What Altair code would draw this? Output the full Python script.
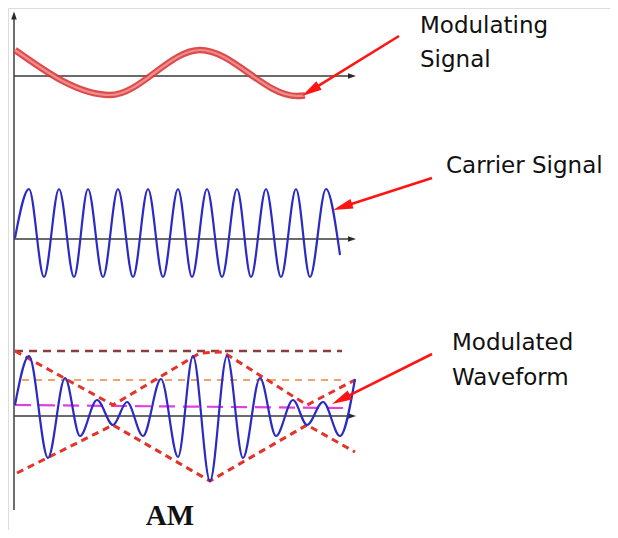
import math
import altair as alt
import pandas as pd

# ---------------- data ----------------
# t = time (px to the right of the vertical axis), amp = level above the panel's own zero line
mod_t   = [1, 96, 186, 283, 291]
mod_amp = [26, -19, 26, -20, -19.5]

car_t   = [1, 15, 30, 45, 60, 74, 89, 104, 119, 134, 149, 164, 178, 193, 208, 223, 237, 252, 267, 282, 296, 312, 326]
car_amp = [1, 50, -38, 50, -38, 50, -38, 50, -38, 50, -38, 50, -38, 50, -38, 50, -38, 50, -38, 50, -38, 50, -16]

am_t   = [1, 15, 34, 51, 66, 83, 99, 113, 129, 147, 164, 179, 196, 213, 229, 246, 262, 279, 293, 309, 326, 341]
am_amp = [11, 60, -42, 38, -20, 16, -9, 14, -20, 37, -41, 60, -65, 60, -42, 38, -20, 16, -9, 14, -20, 37]

env_up_t   = [1, 99, 186, 209, 293, 341]
env_up_amp = [65, 11, 63, 64, 11, 36]
env_lo_t   = [3, 99, 196, 293, 341]
env_lo_amp = [-57, -9, -65, -9, -36]

ref_dark_t,  ref_dark_amp  = [1, 328], [65, 65]
ref_orng_t,  ref_orng_amp  = [8, 333], [36, 36]
ref_mag_t,   ref_mag_amp   = [1, 329], [11, 8]

labels      = ["Modulating", "Signal", "Carrier Signal", "Modulated", "Waveform"]
label_t     = [406, 406, 432, 438, 438]
label_v     = [-33, -67, -173, -350, -385]

# ---------------- layout ----------------
W, H = 602, 522
BASE_MOD, BASE_CAR, BASE_AM = -76, -239, -416
AXIS_END = 336

xs = alt.Scale(domain=[-6, W - 6], nice=False, zero=False)
ys = alt.Scale(domain=[-(8 + H), -8], nice=False, zero=False)
X = alt.X("t:Q", scale=xs, axis=None)
Y = alt.Y("v:Q", scale=ys, axis=None)


def series(ts, amps, base):
    return pd.DataFrame({"t": ts, "v": [base + a for a in amps], "i": list(range(len(ts)))})


def line(df, color, width, dash=None, interp="monotone", opacity=1.0):
    kw = dict(color=color, strokeWidth=width, interpolate=interp, opacity=opacity)
    if dash:
        kw["strokeDash"] = dash
    return alt.Chart(df).mark_line(**kw).encode(x=X, y=Y, order="i:Q")


def head(tail, tip, length):
    dx, dy = tip[0] - tail[0], tip[1] - tail[1]
    L = math.hypot(dx, dy)
    ux, uy = dx / L, dy / L
    return dict(t=tip[0] - ux * length / 2, v=tip[1] - uy * length / 2,
                ang=math.degrees(math.atan2(dx, dy)) % 360,
                bt=tip[0] - ux * length * 0.6, bv=tip[1] - uy * length * 0.6)


ARROW = "M0,-1L0.5,1L-0.5,1Z"
AXHEAD = "M0,-1L0.7,1L-0.7,1Z"

layers = []

# axes
ax_v = pd.DataFrame({"t": [0], "v": [-18], "v2": [-510]})
layers.append(alt.Chart(ax_v).mark_rule(color="#6e6e6e", strokeWidth=2).encode(
    x=X, y=Y, y2="v2:Q"))
ax_h = pd.DataFrame({"t": [0, 0, 0], "t2": [AXIS_END] * 3, "v": [BASE_MOD, BASE_CAR, BASE_AM]})
layers.append(alt.Chart(ax_h).mark_rule(color="#3a3a3a", strokeWidth=1.5).encode(
    x=X, x2="t2:Q", y=Y))
axheads = [head((0, -30), (0, -12), 7)] + [head((300, b), (342, b), 8) for b in (BASE_MOD, BASE_CAR, BASE_AM)]
layers.append(alt.Chart(pd.DataFrame(axheads)).mark_point(
    shape=AXHEAD, size=64, filled=True, color="#2a2a2a", opacity=1).encode(
    x=X, y=Y, angle=alt.Angle("ang:Q", scale=None)))

# modulating signal (red double stroke)
mdf = series(mod_t, mod_amp, BASE_MOD)
layers.append(line(mdf, "#d83838", 6.5, opacity=0.9))
layers.append(line(mdf, "#f08c8c", 2.2))

# carrier
layers.append(line(series(car_t, car_amp, BASE_CAR), "#2a2ac4", 2.2))

# modulated panel reference lines
layers.append(line(series(ref_dark_t, ref_dark_amp, BASE_AM), "#8e3c3c", 2.5, dash=[8, 6], interp="linear"))
layers.append(line(series(ref_orng_t, ref_orng_amp, BASE_AM), "#f0a46c", 2, dash=[7, 6], interp="linear"))
layers.append(line(series(ref_mag_t, ref_mag_amp, BASE_AM), "#e040e0", 2.2, dash=[16, 8], interp="linear"))

# envelopes
layers.append(line(series(env_up_t, env_up_amp, BASE_AM), "#e4332a", 3, dash=[7, 5], interp="linear"))
layers.append(line(series(env_lo_t, env_lo_amp, BASE_AM), "#e4332a", 3, dash=[7, 5], interp="linear"))

# modulated waveform
layers.append(line(series(am_t, am_amp, BASE_AM), "#2a2ac4", 2.2))

# annotation arrows
arrows = [((385, -36), (288, -96)), ((418, -178), (319, -210)), ((418, -354), (318, -404))]
heads = [head(a, b, 20) for a, b in arrows]
seg_rows = []
for (a, b), h in zip(arrows, heads):
    seg_rows.append({"t": a[0], "v": a[1], "t2": h["bt"], "v2": h["bv"]})
layers.append(alt.Chart(pd.DataFrame(seg_rows)).mark_rule(color="#ff1414", strokeWidth=2.6).encode(
    x=X, y=Y, x2="t2:Q", y2="v2:Q"))
layers.append(alt.Chart(pd.DataFrame(heads)).mark_point(
    shape=ARROW, size=400, filled=True, color="#ff1414", opacity=1).encode(
    x=X, y=Y, angle=alt.Angle("ang:Q", scale=None)))

# labels
ldf = pd.DataFrame({"t": label_t, "v": label_v, "txt": labels})
layers.append(alt.Chart(ldf).mark_text(
    align="left", baseline="alphabetic", font="DejaVu Sans", fontSize=23, color="#111111").encode(
    x=X, y=Y, text="txt:N"))

tdf = pd.DataFrame({"t": [156], "v": [-525], "txt": ["AM"]})
layers.append(alt.Chart(tdf).mark_text(
    align="center", baseline="alphabetic", font="Liberation Serif", fontSize=29, fontWeight="bold",
    color="#111111").encode(x=X, y=Y, text="txt:N"))

chart = alt.layer(*layers).properties(
    width=W, height=H, padding=0, autosize=alt.AutoSizeParams(type="none")
).configure_view(stroke=None).configure(background="white")

chart.save("out.html", embed_options={"renderer": "svg", "actions": False})
